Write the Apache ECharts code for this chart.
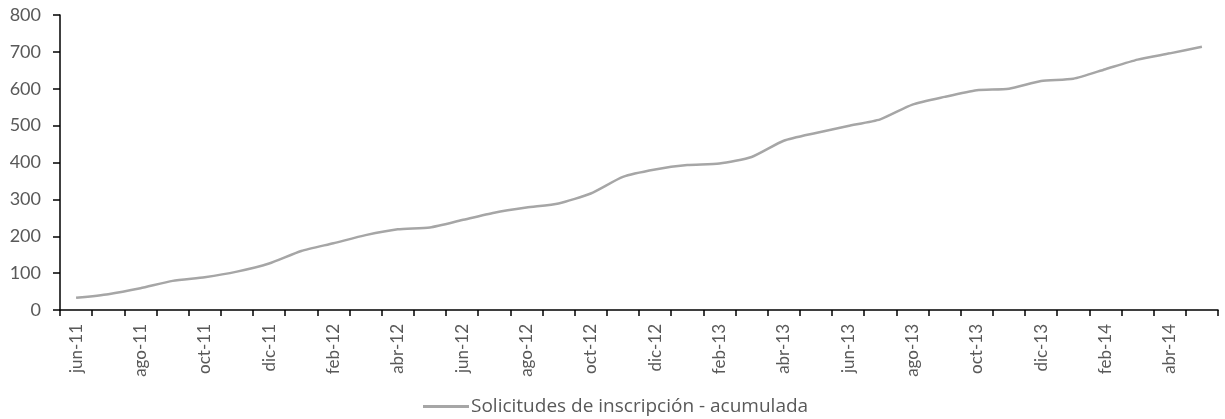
<!DOCTYPE html>
<html>
<head>
<meta charset="utf-8">
<script src="https://cdn.jsdelivr.net/npm/echarts@6/dist/echarts.min.js"></script>
<style>html,body{margin:0;padding:0;background:#fff}#c{width:1225px;height:419px}</style>
</head>
<body>
<div id="c"></div>
<script>
const categories = ["jun-11","jul-11","ago-11","sep-11","oct-11","nov-11","dic-11","ene-12","feb-12","mar-12","abr-12","may-12",
  "jun-12","jul-12","ago-12","sep-12","oct-12","nov-12","dic-12","ene-13","feb-13","mar-13","abr-13","may-13",
  "jun-13","jul-13","ago-13","sep-13","oct-13","nov-13","dic-13","ene-14","feb-14","mar-14","abr-14","may-14"];
const acumulada = [33,43,59,79,89,104,126,160,181,203,219,224,
  244,264,278,289,316,361,381,393,397,415,459,480,
  499,517,557,578,596,600,621,627,653,679,696,714];
const seriesName = "Solicitudes de inscripción - acumulada";
const yTicks = {min:0, max:800, interval:100};

const chart = echarts.init(document.getElementById('c'), null, {renderer:'canvas'});
const font = 'Lato, "Open Sans", sans-serif';
chart.setOption({
  animation:false,
  backgroundColor:'#fff',
  grid:{left:60, right:7, top:15, bottom:109, containLabel:false},
  legend:{
    data:[seriesName], left:418, top:392, itemWidth:46, itemHeight:3, itemGap:4,
    icon:'rect',
    textStyle:{fontFamily:'"Open Sans", sans-serif', fontSize:19, color:'#595959', padding:[0,0,0,-3]}
  },
  xAxis:{
    type:'category', data:categories, boundaryGap:true,
    axisLine:{lineStyle:{color:'#000', width:1.5}},
    axisTick:{show:true, interval:0, length:6, inside:false, lineStyle:{color:'#000', width:1.5}},
    axisLabel:{interval:1, rotate:90, fontFamily:font, fontSize:17, color:'#595959', margin:14}
  },
  yAxis:{
    type:'value', min:yTicks.min, max:yTicks.max, interval:yTicks.interval,
    splitLine:{show:false},
    axisLine:{show:true, lineStyle:{color:'#000', width:1.5}},
    axisTick:{show:true, length:7, lineStyle:{color:'#000', width:1.5}},
    axisLabel:{fontFamily:font, fontSize:18, color:'#595959', margin:19}
  },
  series:[{
    name:seriesName, type:'line', data:acumulada, smooth:0.2,
    showSymbol:false, symbol:'none',
    lineStyle:{color:'#a6a6a6', width:2.5},
    itemStyle:{color:'#a6a6a6'}
  }]
});
</script>
</body>
</html>
